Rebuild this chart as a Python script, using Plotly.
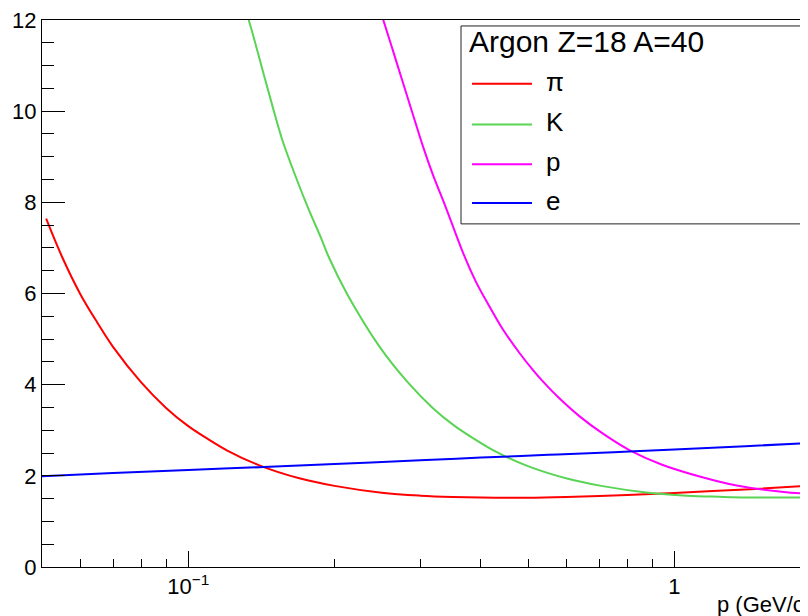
import math
import plotly.graph_objects as go

# ---- data (p in GeV/c, dE/dx in MeV cm^2/g) ----
pi_p = [0.051, 0.055, 0.06, 0.065, 0.07, 0.08, 0.09, 0.1, 0.11, 0.12,
        0.14, 0.17, 0.2, 0.25, 0.3, 0.35, 0.4, 0.5, 0.6, 0.8,
        1.0, 1.2, 1.5, 1.9]
pi_v = [7.64, 6.80, 5.98, 5.36, 4.83, 4.05, 3.49, 3.09, 2.80, 2.56,
        2.23, 1.94, 1.78, 1.63, 1.565, 1.535, 1.522, 1.52, 1.537, 1.58,
        1.625, 1.665, 1.717, 1.785]

k_p = [0.128, 0.1316, 0.1356, 0.1422, 0.1491, 0.1563, 0.1665, 0.1768, 0.1875, 0.1945,
       0.2122, 0.2476, 0.283, 0.3183, 0.3537, 0.389, 0.4244, 0.4952, 0.6013, 0.707,
       0.884, 1.061, 1.238, 1.415, 1.9]
k_v = [12.81, 12.2, 11.71, 10.9, 10.1, 9.35, 8.55, 7.85, 7.22, 6.80,
       5.99, 4.83, 4.05, 3.49, 3.09, 2.80, 2.56, 2.23, 1.94, 1.78,
       1.63, 1.565, 1.54, 1.525, 1.525]

pr_p = [0.245, 0.2511, 0.2633, 0.276, 0.2894, 0.3035, 0.3183, 0.339, 0.3667, 0.391,
        0.4163, 0.4434, 0.4798, 0.511, 0.5376, 0.58, 0.6375, 0.712, 0.8064, 0.9408,
        1.142, 1.344, 1.68, 1.9]
pr_v = [12.45, 12.05, 11.35, 10.65, 9.95, 9.25, 8.62, 7.88, 6.92, 6.25,
        5.72, 5.22, 4.70, 4.33, 4.06, 3.70, 3.31, 2.93, 2.57, 2.25,
        1.97, 1.79, 1.645, 1.61]

e_p = [0.05, 0.07, 0.1, 0.14, 0.2, 0.3, 0.4, 0.55, 0.75, 1.0, 1.4, 1.9]
e_v = [1.99, 2.06, 2.13, 2.19, 2.26, 2.34, 2.40, 2.46, 2.52, 2.58, 2.65, 2.72]

names = ["π", "K", "p", "e"]
colors = ["#ff0000", "#59d454", "#ff00ff", "#0000ff"]
legend_title = "Argon Z=18 A=40"
x_title = "p (GeV/c)"
y_ticks = [0, 2, 4, 6, 8, 10, 12]
x_ticks = [0.1, 1]
x_ticktext = ["10<sup>−1</sup>", "1"]
x_minor = [0.06, 0.07, 0.08, 0.09, 0.2, 0.3, 0.4, 0.5, 0.6, 0.7, 0.8, 0.9]

FONT = "Liberation Sans, Arial, Helvetica, sans-serif"

fig = go.Figure()
for (px_, pv_), nm, col in zip([(pi_p, pi_v), (k_p, k_v), (pr_p, pr_v), (e_p, e_v)], names, colors):
    fig.add_trace(go.Scatter(x=px_, y=pv_, mode="lines", name=nm,
                             line=dict(color=col, width=2, shape="spline", smoothing=1.0),
                             showlegend=False))

# page geometry (the page has an 8px body margin)
OFF = 8
FIG_W, FIG_H = 808 - OFF, 616 - OFF
L, R, T, B = 42, 808, 17, 567          # plot area in page pixels
W, H = R - L, B - T


def xp(px):
    return (px - L) / W


def yp(py):
    return (B - py) / H


shapes = [dict(type="rect", xref="paper", yref="paper",
               x0=xp(461), x1=xp(802), y0=yp(222), y1=yp(23),
               line=dict(color="#222222", width=1), fillcolor="white", layer="above")]
annotations = [dict(text=legend_title, xref="paper", yref="paper", x=xp(467), y=yp(39),
                    xanchor="left", yanchor="middle", showarrow=False,
                    font=dict(family=FONT, size=30, color="black"))]
for i, (nm, col) in enumerate(zip(names, colors)):
    yy = [81, 122, 162, 201][i]
    shapes.append(dict(type="line", xref="paper", yref="paper", x0=xp(472), x1=xp(532),
                       y0=yp(yy), y1=yp(yy), line=dict(color=col, width=2), layer="above"))
    annotations.append(dict(text=nm, xref="paper", yref="paper", x=xp(544), y=yp(yy - 2),
                            xanchor="left", yanchor="middle", showarrow=False,
                            font=dict(family=FONT, size=26, color="black")))
annotations.append(dict(text=x_title, xref="paper", yref="paper", x=xp(715), y=yp(605),
                        xanchor="left", yanchor="middle", showarrow=False,
                        font=dict(family=FONT, size=22, color="black")))

fig.update_layout(
    width=FIG_W, height=FIG_H, autosize=False,
    margin=dict(l=L - OFF, r=FIG_W - (R - OFF), t=T - OFF, b=FIG_H - (B - OFF), pad=0),
    paper_bgcolor="white", plot_bgcolor="white",
    font=dict(family=FONT, size=22, color="black"),
    shapes=shapes, annotations=annotations,
    xaxis=dict(type="log", range=[math.log10(0.05), math.log10(0.05) + W / 486.0],
               showgrid=False, zeroline=False, showline=True, linecolor="black", linewidth=1,
               mirror=True, ticks="inside", ticklen=16, tickwidth=1, tickcolor="black",
               tickmode="array", tickvals=x_ticks, ticktext=x_ticktext,
               ticklabeloverflow="allow",
               tickfont=dict(family=FONT, size=22, color="black"),
               minor=dict(ticks="inside", ticklen=8, tickwidth=1, tickcolor="black",
                          tickmode="array", tickvals=x_minor, showgrid=False)),
    yaxis=dict(range=[0, 12], showgrid=False, zeroline=False, showline=True,
               linecolor="black", linewidth=1, mirror=False,
               ticks="inside", ticklen=23, tickwidth=1, tickcolor="black",
               tickmode="array", tickvals=y_ticks, ticklabeloverflow="allow",
               tickfont=dict(family=FONT, size=22, color="black"),
               minor=dict(ticks="inside", ticklen=12, tickwidth=1, tickcolor="black",
                          dtick=0.5, showgrid=False)),
)
fig.write_html("out.html")
